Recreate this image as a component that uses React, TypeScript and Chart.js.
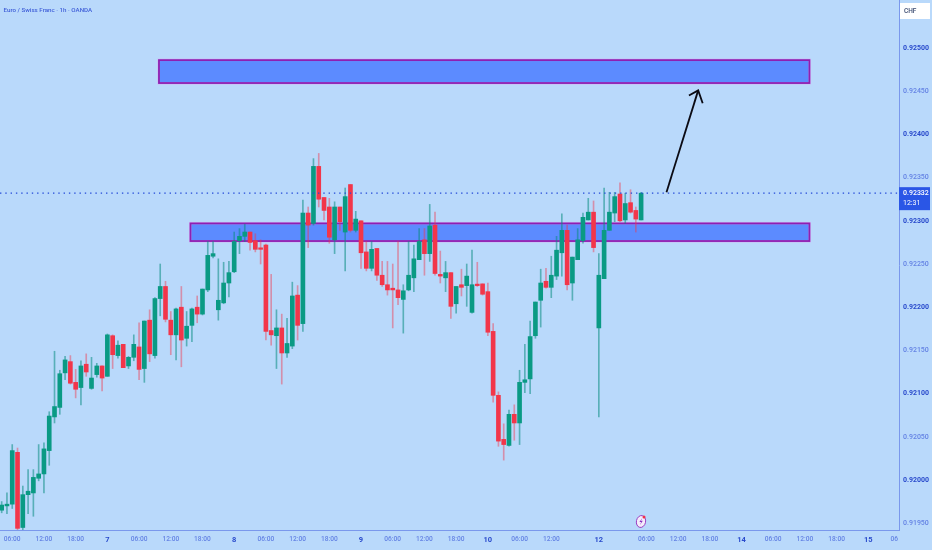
import React, { useEffect, useRef } from "react";
import { Chart, registerables } from "chart.js";

Chart.register(...registerables);

const opens = [
  0.91965, 0.9197, 0.91972, 0.92032, 0.91945, 0.91983, 0.91985, 0.92002, 0.92007, 0.92034,
  0.92073, 0.92084, 0.92124, 0.92137, 0.92113, 0.92107, 0.92134, 0.92106, 0.92122, 0.92132,
  0.9212, 0.92167, 0.92144, 0.92157, 0.92132, 0.92142, 0.92154, 0.92129, 0.92185, 0.92144,
  0.9221, 0.92224, 0.92185, 0.92168, 0.922, 0.92164, 0.92179, 0.922, 0.92192, 0.9222,
  0.92259, 0.92197, 0.92205, 0.92228, 0.92241, 0.92277, 0.92282, 0.92287, 0.92277, 0.92268,
  0.92272, 0.92173, 0.92167, 0.92176, 0.92147, 0.92155, 0.92214, 0.92181, 0.92309, 0.92297,
  0.92363, 0.92327, 0.92316, 0.92278, 0.92316, 0.92287, 0.92342, 0.92289, 0.923, 0.92264,
  0.92245, 0.92268, 0.92237, 0.92226, 0.92222, 0.9222, 0.92209, 0.9222, 0.92234, 0.92255,
  0.92278, 0.92262, 0.92295, 0.92238, 0.92234, 0.9224, 0.92204, 0.92226, 0.92225, 0.92194,
  0.92226, 0.92227, 0.92218, 0.92172, 0.92098, 0.92047, 0.9204, 0.92076, 0.92066, 0.92113,
  0.92117, 0.92167, 0.92208, 0.9223, 0.92223, 0.92236, 0.92263, 0.92289, 0.92228, 0.92255,
  0.92277, 0.92301, 0.9231, 0.92176, 0.92233, 0.92289, 0.92309, 0.92331, 0.92301, 0.92321, 0.92312, 0.92301,
];
const highs = [
  0.91975, 0.91985, 0.92041, 0.92037, 0.91993, 0.92012, 0.92012, 0.92041, 0.92043, 0.92079,
  0.92149, 0.92127, 0.92143, 0.92144, 0.92128, 0.92138, 0.92146, 0.92142, 0.92135, 0.92132,
  0.92169, 0.92168, 0.92161, 0.92157, 0.92143, 0.92168, 0.92182, 0.92184, 0.92197, 0.92211,
  0.9225, 0.9223, 0.92195, 0.92199, 0.92224, 0.92195, 0.92199, 0.92213, 0.92221, 0.92276,
  0.92276, 0.92256, 0.92252, 0.92253, 0.92287, 0.92291, 0.92296, 0.92287, 0.92285, 0.92278,
  0.92273, 0.92238, 0.92197, 0.92192, 0.92187, 0.92229, 0.92225, 0.92324, 0.92316, 0.92372,
  0.92378, 0.92327, 0.92326, 0.92322, 0.92316, 0.92338, 0.92342, 0.92311, 0.923, 0.92276,
  0.92276, 0.92268, 0.92253, 0.92253, 0.9225, 0.92276, 0.92226, 0.92276, 0.92272, 0.92291,
  0.92291, 0.92319, 0.9231, 0.92265, 0.92253, 0.9224, 0.92224, 0.92244, 0.9225, 0.92266,
  0.92252, 0.92227, 0.92228, 0.92181, 0.92102, 0.92065, 0.92081, 0.92087, 0.92127, 0.92157,
  0.92184, 0.92206, 0.92244, 0.92245, 0.92259, 0.92282, 0.92308, 0.92295, 0.92258, 0.92291,
  0.92309, 0.92326, 0.92323, 0.92262, 0.92338, 0.92333, 0.92333, 0.92344, 0.92332, 0.92336, 0.92316, 0.92333,
];
const lows = [
  0.91962, 0.91961, 0.91967, 0.91942, 0.91942, 0.91961, 0.91958, 0.91999, 0.91985, 0.92017,
  0.92066, 0.92076, 0.92116, 0.92111, 0.92095, 0.92087, 0.9212, 0.92105, 0.92119, 0.92103,
  0.9212, 0.92129, 0.92141, 0.9213, 0.92129, 0.92138, 0.92116, 0.92113, 0.92137, 0.92141,
  0.9219, 0.92183, 0.92145, 0.92139, 0.92131, 0.92155, 0.9216, 0.92182, 0.92191, 0.92218,
  0.92257, 0.92185, 0.92204, 0.92212, 0.9224, 0.92262, 0.92276, 0.92266, 0.92264, 0.9225,
  0.92162, 0.92156, 0.92129, 0.92111, 0.92142, 0.92152, 0.92162, 0.92172, 0.92269, 0.92295,
  0.92316, 0.92301, 0.92274, 0.92262, 0.92289, 0.92242, 0.92287, 0.92287, 0.92245, 0.92242,
  0.92242, 0.92231, 0.92224, 0.92214, 0.92176, 0.92203, 0.9217, 0.92219, 0.92218, 0.92255,
  0.92237, 0.92253, 0.92237, 0.92228, 0.92218, 0.92187, 0.92193, 0.92213, 0.92201, 0.92193,
  0.92224, 0.92214, 0.92167, 0.9209, 0.92039, 0.92023, 0.92039, 0.92046, 0.92041, 0.92101,
  0.921, 0.92164, 0.92177, 0.92222, 0.92211, 0.92232, 0.92236, 0.9222, 0.92208, 0.92255,
  0.92274, 0.92301, 0.92264, 0.92073, 0.92233, 0.92289, 0.92299, 0.92299, 0.92297, 0.92309, 0.92287, 0.92301,
];
const closes = [
  0.91971, 0.91972, 0.92034, 0.91944, 0.91983, 0.91987, 0.92003, 0.92007, 0.92036, 0.92074,
  0.92085, 0.92123, 0.92139, 0.92112, 0.92105, 0.92132, 0.92125, 0.92118, 0.92132, 0.92118,
  0.92168, 0.92145, 0.92156, 0.9213, 0.92142, 0.92157, 0.92128, 0.92184, 0.92146, 0.9221,
  0.92224, 0.92186, 0.92168, 0.92198, 0.92162, 0.92178, 0.92198, 0.92192, 0.92221, 0.9226,
  0.92262, 0.92208, 0.92228, 0.9224, 0.92276, 0.92282, 0.92287, 0.92275, 0.92267, 0.92267,
  0.92172, 0.92168, 0.92176, 0.92147, 0.92158, 0.92213, 0.92179, 0.92309, 0.92295, 0.92363,
  0.92325, 0.92312, 0.92281, 0.92316, 0.92299, 0.92328, 0.92289, 0.92302, 0.92263, 0.92245,
  0.92267, 0.92237, 0.92226, 0.9222, 0.9222, 0.92211, 0.92219, 0.92237, 0.92256, 0.92276,
  0.92262, 0.92294, 0.92239, 0.92236, 0.9224, 0.92201, 0.92224, 0.92223, 0.92236, 0.92226,
  0.92225, 0.92215, 0.92171, 0.92098, 0.92045, 0.92041, 0.92076, 0.92066, 0.92113, 0.92116,
  0.92166, 0.92206, 0.92228, 0.92223, 0.92237, 0.92266, 0.92289, 0.92226, 0.92258, 0.92278,
  0.92304, 0.9231, 0.92269, 0.92237, 0.92289, 0.9231, 0.92328, 0.923, 0.9232, 0.9231, 0.92302, 0.92332,
];

const xTickBars = [2, 8, 14, 20, 26, 32, 38, 44, 50, 56, 62, 68, 74, 80, 86, 92, 98, 104, 113, 122, 128, 134, 140, 146, 152, 158, 164, 168.9];
const xTickLabels = ["06:00", "12:00", "18:00", "7", "06:00", "12:00", "18:00", "8", "06:00", "12:00", "18:00", "9", "06:00", "12:00", "18:00", "10", "06:00", "12:00", "12", "06:00", "12:00", "18:00", "14", "06:00", "12:00", "18:00", "15", "06"];
const yTickValues = [0.925, 0.9245, 0.924, 0.9235, 0.923, 0.9225, 0.922, 0.9215, 0.921, 0.9205, 0.92, 0.9195];

const xMin = -0.316;
const xMax = 169.8;
const yMin = 0.919421;
const yMax = 0.925556;

const lastPrice = 0.92332;
const countdown = "12:31";
const chartTitle = "Euro / Swiss Franc · 1h · OANDA";

// zones: [first bar, last bar, low price, high price]
const upperZone = [29.77, 152.85, 0.924595, 0.92486];
const lowerZone = [35.73, 152.85, 0.922766, 0.92297];

const arrowShaftBars = [125.8, 131.8];
const arrowShaftPrices = [0.92333, 0.92451];
const arrowHeadBars = [130.05, 131.8, 132.65];
const arrowHeadPrices = [0.92445, 0.92451, 0.92436];

const BG = "#b9d9fb";
const GREEN = "#0a9a84";
const RED = "#f2364a";
const AXIS = "#7a98ec";
const DARK_LABEL = "#2a4bcc";
const LIGHT_LABEL = "#6483e4";
const FONT = "Roboto, sans-serif";

const overlayPlugin = {
  id: "overlay",
  beforeDatasetsDraw(chart: any) {
    const { ctx, scales } = chart;
    const { x, y } = scales;
    ctx.save();
    for (const z of [upperZone, lowerZone]) {
      const l = x.getPixelForValue(z[0]);
      const r = x.getPixelForValue(z[1]);
      const t = y.getPixelForValue(z[3]);
      const b = y.getPixelForValue(z[2]);
      ctx.fillStyle = "#5c8bff";
      ctx.fillRect(l, t, r - l, b - t);
      ctx.strokeStyle = "rgba(214,170,240,0.7)";
      ctx.lineWidth = 3;
      ctx.strokeRect(l, t, r - l, b - t);
      ctx.fillStyle = "#5c8bff";
      ctx.fillRect(l + 1, t + 1, r - l - 2, b - t - 2);
      ctx.strokeStyle = "#8e1fb2";
      ctx.lineWidth = 1.8;
      ctx.strokeRect(l, t, r - l, b - t);
    }
    ctx.restore();
  },
  afterDraw(chart: any) {
    const { ctx, scales, chartArea } = chart;
    const { y } = scales;
    ctx.save();
    // title
    ctx.font = `500 6.2px ${FONT}`;
    ctx.fillStyle = "#3f5ed8";
    ctx.textBaseline = "middle";
    ctx.textAlign = "left";
    ctx.fillText(chartTitle, 3.5, 10.5);

    // currency box
    ctx.fillStyle = "#ffffff";
    ctx.fillRect(900, 3, 30, 16);
    ctx.fillStyle = "#3a4a70";
    ctx.font = `500 6.5px ${FONT}`;
    ctx.fillText("CHF", 904, 11);

    // last price tag
    const py = y.getPixelForValue(lastPrice);
    const tagX = chartArea.right;
    ctx.fillStyle = "#2a56e6";
    ctx.fillRect(tagX, py - 6, 31, 23);
    ctx.fillStyle = "#ffffff";
    ctx.font = `500 7px ${FONT}`;
    ctx.fillText(lastPrice.toFixed(5), tagX + 4, py + 0.5);
    ctx.font = `400 7px ${FONT}`;
    ctx.fillText(countdown, tagX + 4, py + 10.5);

    // event badge
    const cx = 641;
    const cy = 521.5;
    ctx.beginPath();
    ctx.ellipse(cx, cy, 4.6, 6, 0.2, 0, Math.PI * 2);
    ctx.fillStyle = "#f4ecfb";
    ctx.fill();
    ctx.strokeStyle = "#9a3cc0";
    ctx.lineWidth = 1;
    ctx.stroke();
    ctx.beginPath();
    ctx.moveTo(cx + 1.3, cy - 3.4);
    ctx.lineTo(cx - 1.6, cy + 0.6);
    ctx.lineTo(cx + 0.2, cy + 0.4);
    ctx.lineTo(cx - 1, cy + 3.4);
    ctx.lineTo(cx + 1.8, cy - 0.8);
    ctx.lineTo(cx + 0, cy - 0.6);
    ctx.closePath();
    ctx.fillStyle = "#8a2fc0";
    ctx.fill();
    ctx.beginPath();
    ctx.arc(cx + 3, cy - 4.6, 1.5, 0, Math.PI * 2);
    ctx.fillStyle = "#f0304a";
    ctx.fill();
    ctx.restore();
  },
};

const noPadding = (s: any) => {
  s.paddingLeft = 0;
  s.paddingRight = 0;
  s.paddingTop = 0;
  s.paddingBottom = 0;
};

export default function App() {
  const ref = useRef<HTMLCanvasElement>(null);

  useEffect(() => {
    const bars = opens.map((_, i) => i);
    const isUp = (i: number) => closes[i] >= opens[i];
    const chart = new Chart(ref.current as HTMLCanvasElement, {
      type: "bar",
      data: {
        datasets: [
          {
            type: "bar",
            label: "wicks",
            grouped: false,
            order: 4,
            barThickness: 1,
            borderWidth: 0,
            borderSkipped: false,
            backgroundColor: bars.map((i) => (isUp(i) ? "rgba(10,140,130,0.55)" : "rgba(242,54,74,0.45)")),
            data: bars.map((i) => ({ x: i, y: [lows[i], highs[i]] })),
          },
          {
            type: "bar",
            label: "bodies",
            grouped: false,
            order: 3,
            barThickness: 4,
            minBarLength: 1.5,
            borderWidth: 0,
            borderSkipped: false,
            backgroundColor: bars.map((i) => (isUp(i) ? GREEN : RED)),
            data: bars.map((i) => ({ x: i, y: [opens[i], closes[i]] })),
          },
          {
            type: "line",
            label: "last price",
            order: 2,
            borderColor: "#2248d8",
            borderWidth: 1.3,
            borderDash: [1.4, 3.9],
            pointRadius: 0,
            data: [
              { x: xMin, y: lastPrice },
              { x: xMax, y: lastPrice },
            ],
          },
          {
            type: "line",
            label: "arrow shaft",
            order: 1,
            borderColor: "#0b0b14",
            borderWidth: 1.8,
            pointRadius: 0,
            data: arrowShaftBars.map((b, i) => ({ x: b, y: arrowShaftPrices[i] })),
          },
          {
            type: "line",
            label: "arrow head",
            order: 1,
            borderColor: "#0b0b14",
            borderWidth: 1.8,
            pointRadius: 0,
            data: arrowHeadBars.map((b, i) => ({ x: b, y: arrowHeadPrices[i] })),
          },
        ],
      } as any,
      options: {
        responsive: false,
        animation: false,
        devicePixelRatio: 1,
        layout: { padding: 0 },
        plugins: { legend: { display: false }, tooltip: { enabled: false }, title: { display: false } },
        scales: {
          x: {
            type: "linear",
            min: xMin,
            max: xMax,
            offset: false,
            grid: { display: false, drawTicks: false },
            border: { display: true, color: AXIS, width: 1 },
            afterFit(s: any) {
              s.height = 20;
              noPadding(s);
            },
            afterBuildTicks(s: any) {
              s.ticks = xTickBars.map((value) => ({ value }));
            },
            ticks: {
              autoSkip: false,
              maxRotation: 0,
              minRotation: 0,
              padding: 5.5,
              callback: (v: any) => xTickLabels[xTickBars.indexOf(Number(v))] ?? "",
              color: (c: any) => (xTickLabels[c.index]?.length <= 2 && xTickLabels[c.index] !== "06" ? DARK_LABEL : LIGHT_LABEL),
              font: (c: any) =>
                xTickLabels[c.index]?.length <= 2 && xTickLabels[c.index] !== "06"
                  ? { family: FONT, size: 7.5, weight: "700" }
                  : { family: FONT, size: 6.6, weight: "500" },
            },
          },
          y: {
            type: "linear",
            position: "right",
            min: yMin,
            max: yMax,
            grid: { display: false, drawTicks: false },
            border: { display: true, color: AXIS, width: 1 },
            afterFit(s: any) {
              s.width = 33;
              noPadding(s);
            },
            afterBuildTicks(s: any) {
              s.ticks = yTickValues.map((value) => ({ value }));
            },
            ticks: {
              autoSkip: false,
              padding: 4,
              crossAlign: "near",
              callback: (v: any) => Number(v).toFixed(5),
              color: (c: any) => (c.index % 2 === 0 ? DARK_LABEL : LIGHT_LABEL),
              font: (c: any) => ({ family: FONT, size: 7, weight: c.index % 2 === 0 ? "700" : "500" }),
            },
          },
        },
      } as any,
      plugins: [overlayPlugin],
    });
    return () => chart.destroy();
  }, []);

  return (
    <div style={{ position: "absolute", left: 0, top: 0, width: 932, height: 550, background: BG }}>
      <canvas ref={ref} width={932} height={550} style={{ display: "block", width: 932, height: 550, background: BG }} />
    </div>
  );
}
